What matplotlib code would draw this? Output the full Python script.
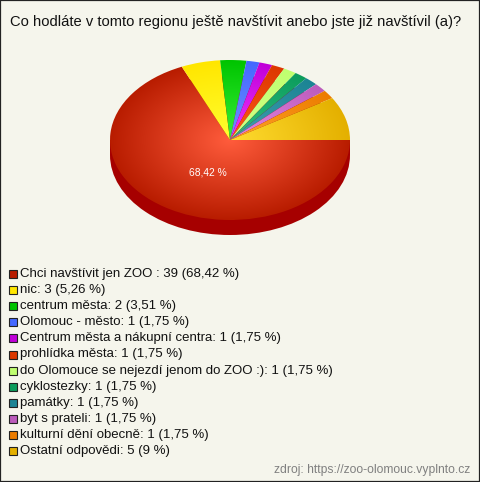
import numpy as np
import matplotlib
matplotlib.use("Agg")
import matplotlib.pyplot as plt
from matplotlib.colors import LinearSegmentedColormap
from matplotlib.patches import Ellipse, Rectangle

plt.rcParams["font.family"] = ["Liberation Sans", "DejaVu Sans"]

W, H = 480, 482
BG = "#f5f5ec"

title = "Co hodláte v tomto regionu ještě navštívit anebo jste již navštívil (a)?"
source = "zdroj: https://zoo-olomouc.vyplnto.cz"
labels = ["Chci navštívit jen ZOO : 39 (68,42 %)", "nic: 3 (5,26 %)", "centrum města: 2 (3,51 %)",
          "Olomouc - město: 1 (1,75 %)", "Centrum města a nákupní centra: 1 (1,75 %)",
          "prohlídka města: 1 (1,75 %)", "do Olomouce se nejezdí jenom do ZOO :): 1 (1,75 %)",
          "cyklostezky: 1 (1,75 %)", "památky: 1 (1,75 %)", "byt s prateli: 1 (1,75 %)",
          "kulturní dění obecně: 1 (1,75 %)", "Ostatní odpovědi: 5 (9 %)"]
values = [39, 3, 2, 1, 1, 1, 1, 1, 1, 1, 1, 5]
edge_cols = ["#b81c00", "#ffe600", "#00c400", "#4468ff", "#c000d8", "#dc3800",
             "#c0ff70", "#0c9c5c", "#1c8494", "#bc5cbc", "#ec7c00", "#e4b000"]
mid_cols = ["#ff5c3c", "#ffff30", "#38f038", "#7090ff", "#ee38ff", "#ff5818",
            "#d0ff88", "#30c080", "#40a0b0", "#e488e4", "#ffa428", "#ffdc30"]
big_label = "68,42 %"


def px(x, y):
    return x / W, 1 - y / H


fig = plt.figure(figsize=(W / 100, H / 100), dpi=100, facecolor=BG)
fig.add_artist(Rectangle((0, 0), 1, 1, transform=fig.transFigure, fill=False, ec="#222222", lw=1.6))

# koláč: střed 230,140, poloosy 120 a 80, hloubka 15 px
ax = fig.add_axes([110 / W, 1 - 220 / H, 240 / W, 160 / H])
depth = 15 / 80
ax.add_patch(Rectangle((-1, -depth), 2, depth, fc="#a60000", ec="none", clip_on=False))
ax.add_patch(Ellipse((0, -depth), 2, 2, fc="#a60000", ec="none", clip_on=False))
wedges, _ = ax.pie(values, startangle=0, counterclock=False, radius=1, wedgeprops=dict(fc="none", ec="none"))

gx, gy = np.meshgrid(np.linspace(-1, 1, 480), np.linspace(-1, 1, 320))
rr = np.clip(np.hypot(gx, gy), 0, 1)
for w, c0, c1 in zip(wedges, mid_cols, edge_cols):
    cmap = LinearSegmentedColormap.from_list("w", [c0, c1])
    im = ax.imshow(rr, cmap=cmap, vmin=0, vmax=1, extent=(-1, 1, -1, 1), origin="lower", zorder=2)
    im.set_clip_path(w)

ax.set_aspect("auto")
ax.set_xlim(-1, 1)
ax.set_ylim(-1, 1)
ax.axis("off")

x, y = px(207.5, 172)
fig.text(x, y, big_label, color="white", fontsize=7.4, ha="center", va="center", zorder=5)

x, y = px(10, 22)
fig.text(x, y, title, color="#111111", fontsize=10.65, ha="left", va="center")

for i, (lab, col) in enumerate(zip(labels, edge_cols)):
    ypos = 274 + i * 16.1
    x, y = px(9, ypos + 4)
    fig.add_artist(Rectangle((x, y), 8 / W, 8 / H, transform=fig.transFigure, fc=col, ec="#222222", lw=0.8))
    x, y = px(20, ypos)
    fig.text(x, y, lab, color="#111111", fontsize=9.55, ha="left", va="center")

x, y = px(470, 470)
fig.text(x, y, source, color="#808080", fontsize=8.75, ha="right", va="center")

fig.savefig("out.png", dpi=100, facecolor=BG)
